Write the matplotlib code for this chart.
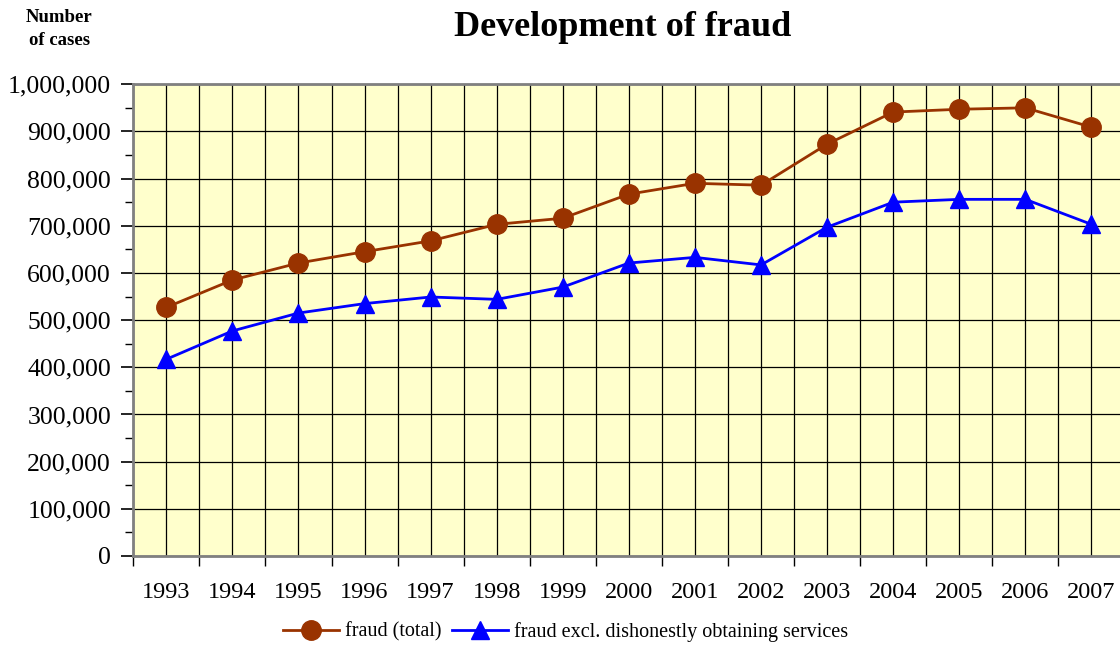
import numpy as np
import matplotlib
matplotlib.use("Agg")
import matplotlib.pyplot as plt
from matplotlib.ticker import FuncFormatter, MultipleLocator

years = ['1993', '1994', '1995', '1996', '1997', '1998', '1999', '2000',
         '2001', '2002', '2003', '2004', '2005', '2006', '2007']
fraud_total = [527000, 585000, 621000, 645000, 668000, 703000, 716000, 767000,
               790000, 786000, 873000, 941000, 947000, 950000, 909000]
fraud_excl = [417000, 477000, 515000, 535000, 549000, 544000, 570000, 621000,
              633000, 617000, 697000, 750000, 756000, 756000, 703000]

plt.rcParams['font.family'] = ['Liberation Serif', 'DejaVu Serif']

fig = plt.figure(figsize=(11.2, 6.48), dpi=100)
ax = fig.add_axes([0.119, 0.142, 0.885, 0.728])
ax.set_facecolor('#FFFFCC')

x = np.arange(len(years))
ax.plot(x, fraud_total, color='#993300', lw=2, marker='o', ms=14,
        label='fraud (total)', zorder=3)
ax.plot(x, fraud_excl, color='#0000FF', lw=2, marker='^', ms=13,
        label='fraud excl. dishonestly obtaining services', zorder=3)

ax.set_xlim(-0.5, len(years) - 0.5)
ax.set_ylim(0, 1000000)

ax.set_xticks(x)
ax.set_xticklabels(years)
ax.set_xticks(np.arange(-0.5, len(years)), minor=True)
ax.tick_params(axis='x', which='major', length=0, pad=19, labelsize=17.5)
ax.tick_params(axis='x', which='minor', length=7, width=1, direction='out')

ax.yaxis.set_major_locator(MultipleLocator(100000))
ax.yaxis.set_minor_locator(MultipleLocator(50000))
ax.yaxis.set_major_formatter(FuncFormatter(lambda v, p: f'{int(v):,}'))
ax.tick_params(axis='y', which='major', length=9, width=1.2, labelsize=18.5, pad=7)
ax.tick_params(axis='y', which='minor', length=6, width=1)

ax.grid(True, which='major', axis='both', color='black', lw=0.9)
ax.grid(True, which='minor', axis='x', color='black', lw=0.9)
ax.set_axisbelow(True)

for s in ['left', 'bottom', 'top']:
    ax.spines[s].set_color('#808080')
    ax.spines[s].set_linewidth(2)
ax.spines['right'].set_visible(False)

fig.text(0.556, 0.957, 'Development of fraud', ha='center', va='center',
         fontsize=26, fontweight='bold')
fig.text(0.053, 0.955, 'Number\nof cases', ha='center', va='center',
         fontsize=13.5, fontweight='bold', linespacing=1.5)

leg = fig.legend(loc='center', bbox_to_anchor=(0.505, 0.025), ncol=2,
                 frameon=False, fontsize=14.5, handlelength=2.8,
                 columnspacing=0.5, handletextpad=0.3, borderpad=0)

fig.savefig('out.png', dpi=100)
